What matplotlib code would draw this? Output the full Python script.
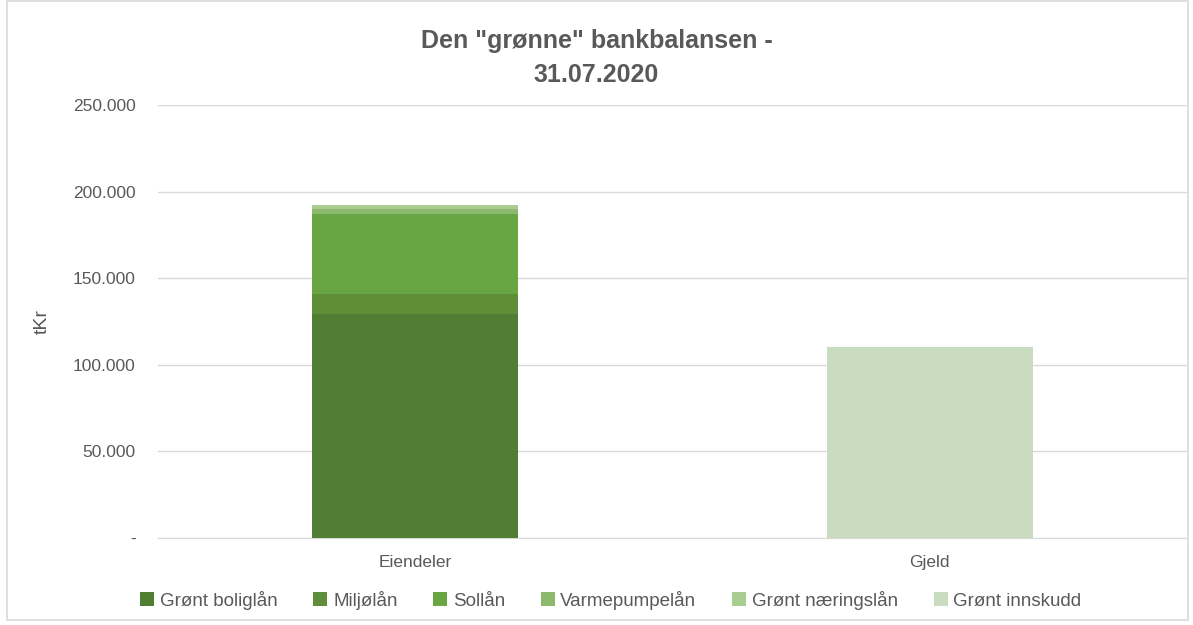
import numpy as np
import matplotlib.pyplot as plt
from matplotlib.patches import Rectangle
from matplotlib.ticker import FuncFormatter

plt.rcParams['font.family'] = ['Liberation Sans', 'DejaVu Sans']

categories = ['Eiendeler', 'Gjeld']
series = ['Grønt boliglån', 'Miljølån', 'Sollån', 'Varmepumpelån',
          'Grønt næringslån', 'Grønt innskudd']
values = {
    'Grønt boliglån': [129300, 0],
    'Miljølån': [11400, 0],
    'Sollån': [46200, 0],
    'Varmepumpelån': [3100, 0],
    'Grønt næringslån': [2500, 0],
    'Grønt innskudd': [0, 110300],
}
colors = ['#507E32', '#5E8E38', '#6AA544', '#8DB96F', '#A9CD90', '#C9DCBF']

fig = plt.figure(figsize=(11.93, 6.25), dpi=100)
ax = fig.add_axes([0.1324, 0.1392, 0.8626, 0.6928])

x = np.arange(len(categories))
bottom = np.zeros(len(categories))
for name, col in zip(series, colors):
    v = np.array(values[name], dtype=float)
    ax.bar(x, v, 0.4, bottom=bottom, color=col, label=name, zorder=3)
    bottom += v

ax.set_xlim(-0.5, 1.5)
ax.set_ylim(0, 250000)
ax.set_yticks(np.arange(0, 250001, 50000))
ax.yaxis.set_major_formatter(FuncFormatter(
    lambda v, p: '-' if v == 0 else f'{int(v):,}'.replace(',', '.')))
ax.set_xticks(x)
ax.set_xticklabels(categories)
ax.grid(axis='y', color='#D9D9D9', lw=1, zorder=0)
for s in ['top', 'right', 'left']:
    ax.spines[s].set_visible(False)
ax.spines['bottom'].set_color('#D9D9D9')
ax.tick_params(length=0, colors='#595959', labelsize=12.5)
ax.tick_params(axis='y', pad=16)
ax.tick_params(axis='x', pad=12)
ax.set_ylabel('tKr', color='#595959', fontsize=14, labelpad=16)

fig.text(0.5, 0.935, 'Den "grønne" bankbalansen -', ha='center', va='center',
         fontsize=18, fontweight='bold', color='#595959')
fig.text(0.5, 0.88, '31.07.2020', ha='center', va='center',
         fontsize=18, fontweight='bold', color='#595959')

fig.legend(loc='center', bbox_to_anchor=(0.512, 0.04), ncol=6, frameon=False,
           handlelength=0.75, handleheight=0.75, handletextpad=0.3,
           columnspacing=1.9, fontsize=13.5, labelcolor='#595959')

fig.patches.append(Rectangle((0.006, 0.008), 0.99, 0.99, transform=fig.transFigure,
                             fill=False, edgecolor='#D9D9D9', lw=1.2))

fig.savefig('out.png', dpi=100)
